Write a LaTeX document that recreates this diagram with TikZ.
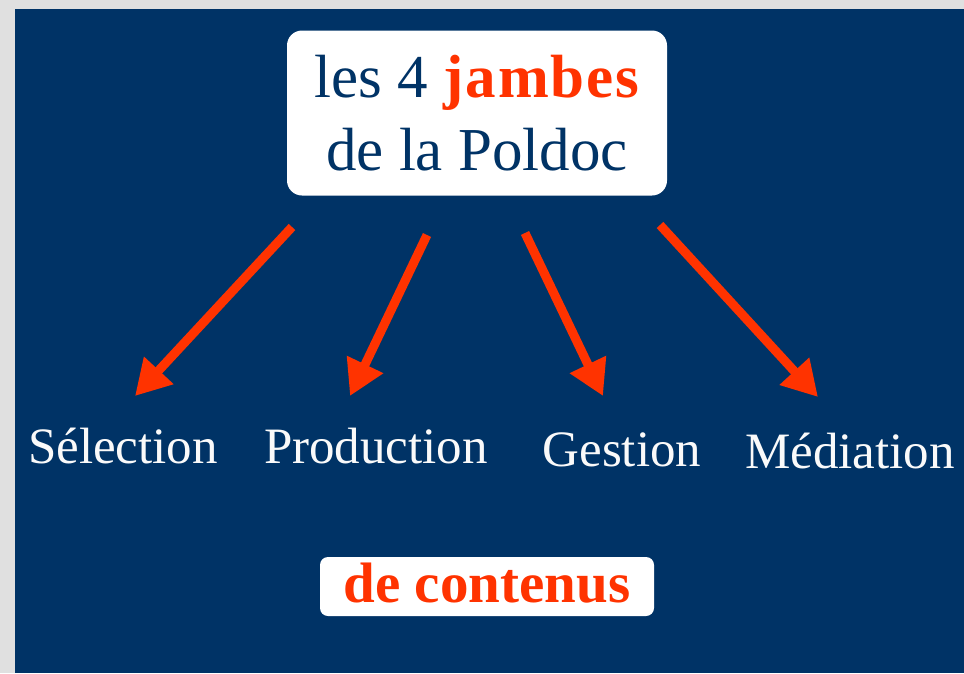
\documentclass[tikz,border=0pt]{standalone}
\usepackage{fontspec}
\setmainfont{Liberation Serif}
\usetikzlibrary{arrows.meta}
\definecolor{poldocblue}{RGB}{0,51,102}
\definecolor{poldocred}{RGB}{255,51,0}
\definecolor{framegray}{RGB}{224,224,224}
\tikzset{
  jambe/.style={draw=poldocred,line width=9pt,-{Triangle[width=38pt,length=35pt]}},
  leg/.style={text=white!96!gray,font=\fontsize{51}{60}\selectfont,anchor=base,inner sep=0pt},
  whitebox/.style={fill=white,rounded corners=15pt,inner sep=0pt}
}
\begin{document}
\begin{tikzpicture}[x=1pt,y=-1pt]
\useasboundingbox (0,0) rectangle (964,673);
\fill[framegray] (0,0) rectangle (964,673);
\fill[poldocblue] (15,9) rectangle (964,673);
\node[whitebox,minimum width=380pt,minimum height=165pt,align=center,text=poldocblue,
  font=\fontsize{61}{73}\selectfont] (titre) at (477,113)
  {les 4 {\bfseries\addfontfeatures{LetterSpace=3}\color{poldocred}jambes}\\ de la Poldoc};
\node[leg] (selection) at (123,463) {Sélection};
\node[leg] (production) at (376,463) {Production};
\node[leg] (gestion) at (622,466) {Gestion};
\node[leg] (mediation) at (850,468) {Médiation};
\node[whitebox,rounded corners=8pt,minimum width=334pt,minimum height=59pt,text=poldocred,
  font=\fontsize{57}{60}\selectfont\bfseries,text height=38pt,text depth=6pt] (contenus) at (487,586.5) {de contenus};
% the four legs
\coordinate (s1) at (292,227); \coordinate (t1) at (135,396);
\coordinate (s2) at (427,235); \coordinate (t2) at (350,396);
\coordinate (s3) at (525,233); \coordinate (t3) at (603,396);
\coordinate (s4) at (660,225); \coordinate (t4) at (818,397);
\draw[jambe] (s1) -- (t1);
\draw[jambe] (s2) -- (t2);
\draw[jambe] (s3) -- (t3);
\draw[jambe] (s4) -- (t4);
\end{tikzpicture}
\end{document}
